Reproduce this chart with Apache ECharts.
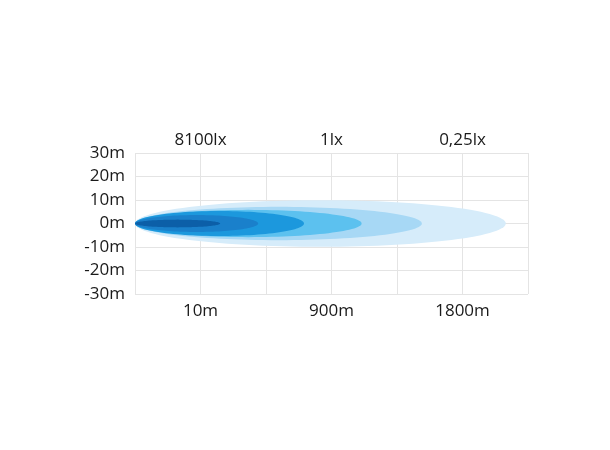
<!DOCTYPE html>
<html>
<head>
<meta charset="utf-8">
<script src="https://cdn.jsdelivr.net/npm/echarts@6/dist/echarts.min.js"></script>
<style>html,body{margin:0;padding:0;background:#fff;}#c{width:610px;height:450px;}</style>
</head>
<body>
<div id="c"></div>
<script>
// tick labels (x positions are grid steps)
var bottomLabels = ['', '10m', '', '900m', '', '1800m', ''];
var topLabels = ['', '8100lx', '', '1lx', '', '0,25lx', ''];
// beam lengths (in grid steps from the lamp) and half widths (m)
var beamLength = [5.66, 4.38, 3.46, 2.58, 1.88, 1.30];
var beamHalfWidth = [9.9, 7.1, 5.8, 5.3, 3.6, 1.65];
var beamColors = ['#d6ecfa', '#a7d8f5', '#5cc1ef', '#1c98dd', '#1a80cb', '#0c5fa8'];

var data = beamLength.map(function (l, i) { return [l, beamHalfWidth[i], i]; });

var font = '"Open Sans", sans-serif';
var chart = echarts.init(document.getElementById('c'), null, {renderer: 'canvas'});
chart.setOption({
  animation: false,
  backgroundColor: '#fff',
  grid: {left: 135, right: 82, top: 153, bottom: 156},
  xAxis: [{
    type: 'value', min: 0, max: 6, interval: 1, position: 'bottom',
    axisLine: {show: false}, axisTick: {show: false},
    splitLine: {show: true, lineStyle: {color: '#e4e4e4', width: 1}},
    axisLabel: {margin: 9, color: '#1a1a1a', fontSize: 17, fontFamily: font,
      formatter: function (v) { return bottomLabels[Math.round(v)] || ''; }}
  }, {
    type: 'value', min: 0, max: 6, interval: 1, position: 'top',
    axisLine: {show: false}, axisTick: {show: false}, splitLine: {show: false},
    axisLabel: {margin: 4, color: '#1a1a1a', fontSize: 17, fontFamily: font,
      formatter: function (v) { return topLabels[Math.round(v)] || ''; }}
  }],
  yAxis: {
    type: 'value', min: -30, max: 30, interval: 10,
    axisLine: {show: false}, axisTick: {show: false},
    splitLine: {show: true, lineStyle: {color: '#e4e4e4', width: 1}},
    axisLabel: {margin: 10, color: '#1a1a1a', fontSize: 17, fontFamily: font,
      formatter: '{value}m'}
  },
  series: [{
    type: 'custom',
    data: data,
    renderItem: function (params, api) {
      var len = api.value(0), half = api.value(1), idx = api.value(2);
      var pts = [];
      var n = 120;
      for (var k = 0; k <= n; k++) {
        var t = Math.PI * 2 * k / n;
        pts.push(api.coord([len / 2 - len / 2 * Math.cos(t), half * Math.sin(t)]));
      }
      return {type: 'polygon', shape: {points: pts}, style: {fill: beamColors[idx]}};
    }
  }]
});
</script>
</body>
</html>
